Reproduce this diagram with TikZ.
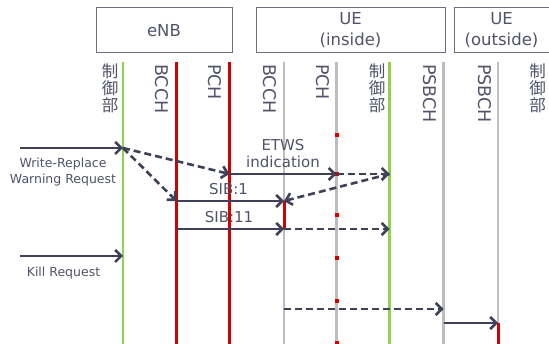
\documentclass[tikz,border=0pt]{standalone}
\usepackage{fontspec}
\setmainfont{DejaVu Sans}
\newfontfamily\jpfont{Noto Sans CJK JP}
\usetikzlibrary{arrows.meta}
\definecolor{msg}{HTML}{3E4157}
\definecolor{txt}{HTML}{50536A}
\definecolor{frame}{HTML}{6E7080}
\definecolor{ctl}{HTML}{92D050}
\definecolor{chred}{HTML}{D20000}
\definecolor{chgray}{HTML}{BDBDBD}
\tikzset{
  entity/.style={draw=frame, line width=1pt, minimum height=45pt, text=txt,
    font=\fontsize{16.5}{21}\selectfont, align=center, inner sep=0pt},
  life/.style={line width=2.5pt},
  chlabel/.style={rotate=-90, anchor=north west, inner sep=0pt, text=txt,
    font=\fontsize{17.5}{17}\selectfont},
  ctllabel/.style={anchor=north east, inner sep=0pt, text=txt,
    font=\jpfont\fontsize{16.5}{17}\selectfont, align=center},
  msgsolid/.style={draw=msg, line width=2.6pt, -{Straight Barb[length=6pt,width=12pt]}},
  msgdash/.style={msgsolid, dash pattern=on 7pt off 4pt},
  lbl/.style={text=txt, inner sep=0pt, font=\fontsize{15}{17}\selectfont, align=center},
  sidelbl/.style={text=txt, inner sep=0pt, font=\fontsize{12.5}{16}\selectfont, align=center},
  active/.style={draw=chred, line width=3pt},
}
\begin{document}
\begin{tikzpicture}[x=1pt, y=-1pt]
\useasboundingbox (0,0) rectangle (549,344);

% entity boxes
\node[entity, minimum width=136pt] (enb) at (164,30.5) {eNB};
\node[entity, minimum width=189pt] (uein) at (350.5,30.5) {UE\\(inside)};
\node[entity, minimum width=95pt] (ueout) at (501.5,30.5) {UE\\(outside)};

% lifeline end points
\foreach \n/\x in {ec/123, eb/176.5, ep/229.5, ib/284, ip/336.5, ic/389.5, is/443.5, os/498}{
  \coordinate (\n-top) at (\x,62);
  \coordinate (\n-bot) at (\x,345);
}

% lifelines
\draw[life, ctl] (ec-top) -- (ec-bot);
\draw[life, chred] (eb-top) -- (eb-bot);
\draw[life, chred] (ep-top) -- (ep-bot);
\draw[life, chgray] (ib-top) -- (ib-bot);
\draw[life, chgray] (ip-top) -- (ip-bot);
\draw[life, ctl] (ic-top) -- (ic-bot);
\draw[life, chgray] (is-top) -- (is-bot);
\draw[life, chgray] (os-top) -- (os-bot);

% paging occasions on the UE PCH
\foreach \y in {135,174,215,258,301,343}
  \fill[chred] (335,\y-2) rectangle (338.5,\y+2);

% channel labels
\node[ctllabel] (l-ec) at (118.5,64) {制\\御\\部};
\node[chlabel] (l-eb) at (169,64) {BCCH};
\node[chlabel] (l-ep) at (222,64) {PCH};
\node[chlabel] (l-ib) at (277,64) {BCCH};
\node[chlabel] (l-ip) at (329.5,64) {PCH};
\node[ctllabel] (l-ic) at (385.5,64) {制\\御\\部};
\node[chlabel] (l-is) at (437,64) {PSBCH};
\node[chlabel] (l-os) at (491.5,64) {PSBCH};
\node[ctllabel] (l-oc) at (546,64) {制\\御\\部};

% message points
\coordinate (wr-src) at (20,148);
\coordinate (wr-ctl) at (123,148);
\coordinate (etws-pch) at (229.5,174);
\coordinate (etws-uepch) at (336.5,174);
\coordinate (etws-uectl) at (389.5,174);
\coordinate (sib1-bcch) at (176.5,201);
\coordinate (sib1-uebcch) at (284,201);
\coordinate (sib11-bcch) at (176.5,229);
\coordinate (sib11-uebcch) at (284,229);
\coordinate (sib11-uectl) at (389.5,229);
\coordinate (kill-src) at (20,256);
\coordinate (kill-ctl) at (123,256);
\coordinate (fw-uebcch) at (284,309);
\coordinate (fw-psbch) at (443.5,309);
\coordinate (sl-psbch) at (443.5,323);
\coordinate (sl-outpsbch) at (498,323);
\coordinate (sl-end) at (498,345);

% reception intervals
\draw[active] (sib1-uebcch) -- (sib11-uebcch);
\draw[active] (sl-outpsbch) -- (sl-end);

% messages
\draw[msgsolid] (wr-src) -- (wr-ctl);
\draw[msgdash] (wr-ctl) -- (etws-pch);
\draw[msgdash] (wr-ctl) -- (sib1-bcch);
\draw[msgsolid] (etws-pch) -- (etws-uepch);
\draw[msgdash] (etws-uepch) -- (etws-uectl);
\draw[msgdash] (etws-uectl) -- (sib1-uebcch);
\draw[msgsolid] (sib1-bcch) -- (sib1-uebcch);
\draw[msgsolid] (sib11-bcch) -- (sib11-uebcch);
\draw[msgdash] (sib11-uebcch) -- (sib11-uectl);
\draw[msgsolid] (kill-src) -- (kill-ctl);
\draw[msgdash] (fw-uebcch) -- (fw-psbch);
\draw[msgsolid] (sl-psbch) -- (sl-outpsbch);

% message labels
\node[sidelbl] (t-wr) at (63,172) {Write-Replace\\Warning Request};
\node[sidelbl] (t-kill) at (63.5,273) {Kill Request};
\node[lbl] (t-etws) at (283,153.5) {ETWS\\indication};
\node[lbl] (t-sib1) at (228.5,189.5) {SIB:1};
\node[lbl] (t-sib11) at (229,217) {SIB:11};
\end{tikzpicture}
\end{document}
